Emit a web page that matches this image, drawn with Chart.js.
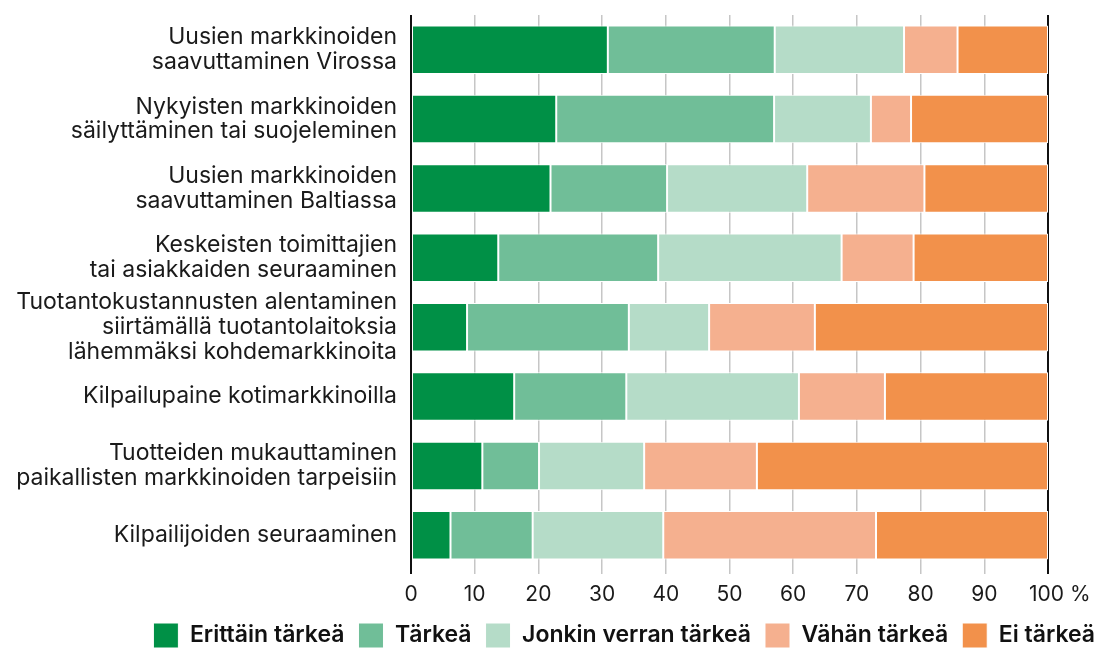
<!DOCTYPE html>
<html>
<head>
<meta charset="utf-8">
<script src="https://cdn.jsdelivr.net/npm/chart.js@4/dist/chart.umd.min.js"></script>
<style>
html,body{margin:0;padding:0;background:#fff;}
#wrap{width:1103px;height:648px;position:relative;}
</style>
</head>
<body>
<div id="wrap"><canvas id="c" width="1103" height="648"></canvas></div>
<script>
const categories = [
  ["Uusien markkinoiden", "saavuttaminen Virossa"],
  ["Nykyisten markkinoiden", "säilyttäminen tai suojeleminen"],
  ["Uusien markkinoiden", "saavuttaminen Baltiassa"],
  ["Keskeisten toimittajien", "tai asiakkaiden seuraaminen"],
  ["Tuotantokustannusten alentaminen", "siirtämällä tuotantolaitoksia", "lähemmäksi kohdemarkkinoita"],
  ["Kilpailupaine kotimarkkinoilla"],
  ["Tuotteiden mukauttaminen", "paikallisten markkinoiden tarpeisiin"],
  ["Kilpailijoiden seuraaminen"]
];
const seriesNames = ["Erittäin tärkeä", "Tärkeä", "Jonkin verran tärkeä", "Vähän tärkeä", "Ei tärkeä"];
const erittainTarkea = [30.9, 22.8, 21.9, 13.7, 8.8, 16.2, 11.2, 6.2];
const tarkea         = [26.2, 34.2, 18.3, 25.1, 25.4, 17.6, 8.9, 12.9];
const jonkinVerran   = [20.3, 15.2, 22.0, 28.8, 12.6, 27.1, 16.5, 20.5];
const vahanTarkea    = [8.4, 6.3, 18.4, 11.3, 16.6, 13.5, 17.7, 33.4];
const eiTarkea       = [14.2, 21.5, 19.4, 21.1, 36.6, 25.6, 45.7, 27.0];
const xTickLabels = ["0", "10", "20", "30", "40", "50", "60", "70", "80", "90", "    100 %"];
const colors = ["#009046", "#70be98", "#b5dcc8", "#f5b08f", "#f2914b"];

const seriesValues = [erittainTarkea, tarkea, jonkinVerran, vahanTarkea, eiTarkea];
const FONT = "Inter, 'Liberation Sans', Arial, sans-serif";
const LEGEND_PAD = 14;

const legendPlace = {
  id: 'legendPlace',
  afterLayout(chart) {
    const lg = chart.legend;
    if (!lg) return;
    const dx = (1095 + LEGEND_PAD) - lg.right;
    lg.left += dx; lg.right += dx;
    lg.top = 623 - LEGEND_PAD;
    lg.bottom = 680;
    lg.height = lg.bottom - lg.top;
  }
};

new Chart(document.getElementById('c'), {
  type: 'bar',
  data: {
    labels: categories,
    datasets: seriesValues.map((vals, i) => ({
      label: seriesNames[i],
      data: vals,
      backgroundColor: colors[i],
      borderColor: '#ffffff',
      borderWidth: 1,
      borderSkipped: false,
      categoryPercentage: 0.72,
      barPercentage: 0.97
    }))
  },
  plugins: [legendPlace],
  options: {
    indexAxis: 'y',
    responsive: false,
    animation: false,
    devicePixelRatio: 1,
    layout: { padding: { top: 15, right: 55, left: 0, bottom: 0 } },
    scales: {
      x: {
        stacked: true,
        min: 0, max: 100,
        border: { display: false },
        grid: {
          color: ctx => (ctx.tick && (ctx.tick.value === 0 || ctx.tick.value === 100)) ? '#111111' : '#c6c6c6',
          lineWidth: ctx => (ctx.tick && (ctx.tick.value === 0 || ctx.tick.value === 100)) ? 2 : 1.5,
          tickLength: 4,
          drawTicks: true
        },
        ticks: {
          stepSize: 10,
          maxRotation: 0,
          autoSkip: false,
          padding: 8,
          color: '#1a1a1a',
          font: { family: FONT, size: 21 },
          callback: (v, i) => xTickLabels[i]
        },
        afterFit: s => { s.height = 48; }
      },
      y: {
        stacked: true,
        border: { display: false },
        grid: { display: false, drawTicks: false },
        ticks: {
          autoSkip: false,
          padding: 14,
          color: '#1a1a1a',
          font: { family: FONT, size: 23, lineHeight: 1.08 }
        },
        afterFit: s => { s.width = 411; s.paddingTop = 0; s.paddingBottom = 0; }
      }
    },
    plugins: {
      legend: {
        position: 'bottom',
        align: 'end',
        maxHeight: 30,
        labels: {
          boxWidth: 25,
          boxHeight: 25,
          padding: LEGEND_PAD,
          color: '#111111',
          font: { family: FONT, size: 23, weight: '600' },
          useBorderRadius: false
        }
      },
      tooltip: { enabled: false }
    }
  }
});
</script>
</body>
</html>
